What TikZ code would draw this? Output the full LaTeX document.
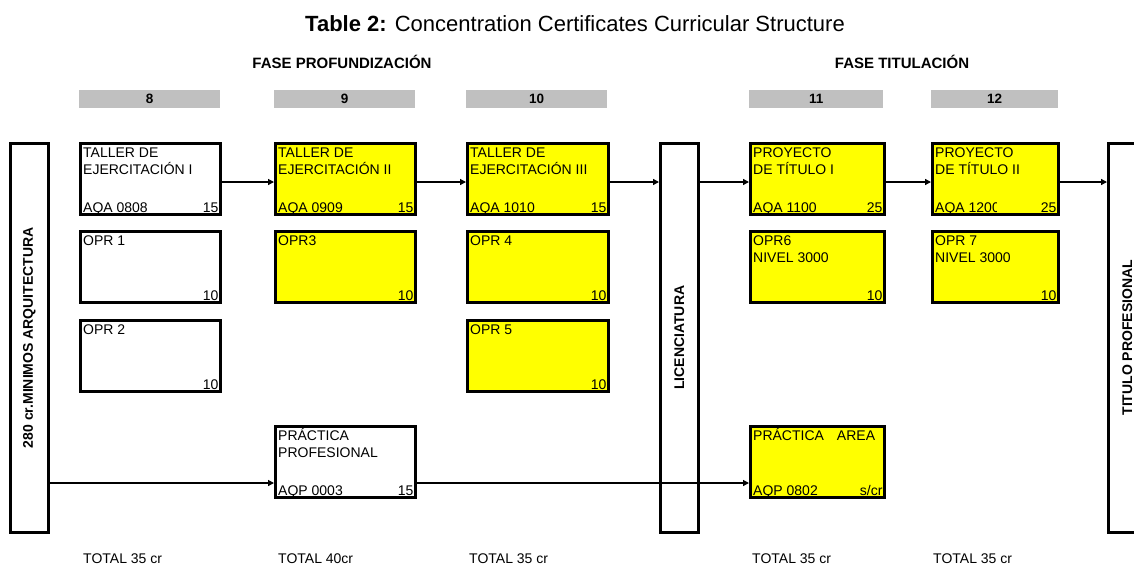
\documentclass[tikz,border=0pt]{standalone}
\usepackage{fontspec}
\setmainfont{Liberation Sans}
\usetikzlibrary{arrows.meta,calc}
\definecolor{boxyellow}{HTML}{FFFF00}
\definecolor{bargrey}{HTML}{C0C0C0}
\tikzset{
  course/.style={draw, line width=2.7pt, anchor=north west, inner sep=0pt, minimum height=71pt},
  wbox/.style={fill=white},
  ybox/.style={fill=boxyellow},
  txt/.style={font=\fontsize{14}{17}\selectfont, inner sep=0pt, anchor=base west},
  num/.style={font=\fontsize{14}{17}\selectfont, inner sep=0pt, anchor=base east},
  bar/.style={fill=bargrey, anchor=north west, minimum height=18pt, inner sep=0pt, font=\bfseries\fontsize{13.5}{15}\selectfont},
  vbox/.style={draw, line width=2.5pt, anchor=north west, minimum width=38pt, minimum height=389pt, inner sep=0pt},
  vtxt/.style={rotate=90, font=\bfseries\fontsize{14}{16}\selectfont, inner sep=0pt},
  arr/.style={line width=1.3pt, -{Triangle[length=6pt,width=6pt]}},
  total/.style={font=\fontsize{14}{17}\selectfont, anchor=base west, inner sep=0pt},
  phase/.style={font=\bfseries\fontsize{15}{18}\selectfont, anchor=base, inner sep=0pt},
}
\newcommand\coursebox[9]{%
  \node[course,#5,minimum width=#4pt] (#1) at (#2,#3) {};
  \node[txt] (#1-a) at ($(#1.north west)+(4,15)$) {#6};
  \node[txt] (#1-b) at ($(#1.north west)+(4,32)$) {#7};
  \node[txt] (#1-c) at ($(#1.south west)+(4,-3)$) {#8};
  \node[num] (#1-n) at ($(#1.south east)+(-3,-3)$) {#9};
}
\begin{document}
\begin{tikzpicture}[x=1pt,y=-1pt]
\useasboundingbox (0,0) rectangle (1134,565);
\clip (0,0) rectangle (1134,565);

% title and phases
\node[font=\fontsize{22}{26}\selectfont, anchor=base, inner sep=0pt] (title) at (575,31)
  {\textbf{Table 2:} Concentration Certificates Curricular Structure};
\node[phase] (fp) at (342,68) {FASE PROFUNDIZACIÓN};
\node[phase] (ft) at (902,68) {FASE TITULACIÓN};

% semester bars
\node[bar, minimum width=141pt] (b8) at (79,90) {8};
\node[bar, minimum width=141pt] (b9) at (274,90) {9};
\node[bar, minimum width=141pt] (b10) at (466,90) {10};
\node[bar, minimum width=134pt] (b11) at (749,90) {11};
\node[bar, minimum width=127pt] (b12) at (931,90) {12};

% vertical boxes
\node[vbox] (left) at (9,142) {};
\node[vtxt] (lefttxt) at (left.center) {280 cr.MINIMOS ARQUITECTURA};
\node[vbox] (lic) at (659,142) {};
\node[vtxt] (lictxt) at (lic.center) {LICENCIATURA};
\node[vbox] (tit) at (1107,142) {};
\node[vtxt] (tittxt) at (tit.center) {TITULO PROFESIONAL};

% semester 8
\coursebox{t1}{79}{142}{140}{wbox}{TALLER DE}{EJERCITACIÓN I}{AQA 0808}{15}
\coursebox{o1}{79}{230}{140}{wbox}{OPR 1}{}{}{10}
\coursebox{o2}{79}{319}{140}{wbox}{OPR 2}{}{}{10}
% semester 9
\coursebox{t2}{274}{142}{140}{ybox}{TALLER DE}{EJERCITACIÓN II}{AQA 0909}{15}
\coursebox{o3}{274}{230}{140}{ybox}{OPR3}{}{}{10}
\coursebox{pp}{274}{425}{140}{wbox}{PRÁCTICA}{PROFESIONAL}{AQP 0003}{15}
% semester 10
\coursebox{t3}{466}{142}{141}{ybox}{TALLER DE}{EJERCITACIÓN III}{AQA 1010}{15}
\coursebox{o4}{466}{230}{141}{ybox}{OPR 4}{}{}{10}
\coursebox{o5}{466}{319}{141}{ybox}{OPR 5}{}{}{10}
% semester 11
\coursebox{p1}{749}{142}{134}{ybox}{PROYECTO}{DE TÍTULO I}{AQA 1100}{25}
\coursebox{o6}{749}{230}{134}{ybox}{OPR6}{NIVEL 3000}{}{10}
\coursebox{pa}{749}{425}{134}{ybox}{PRÁCTICA\hspace{13pt}AREA}{}{AQP 0802}{s/cr}
% semester 12
\coursebox{p2}{931}{142}{126}{ybox}{PROYECTO}{DE TÍTULO II}{}{25}
\begin{scope}
  \clip (931,190) rectangle (996,214);
  \node[txt] (p2-code) at ($(p2.south west)+(4,-3)$) {AQA 1200};
\end{scope}
\coursebox{o7}{931}{230}{126}{ybox}{OPR 7}{NIVEL 3000}{}{10}

% connectors
\coordinate (r1) at (0,182);
\coordinate (r4) at (0,483);
\draw[arr] (t1.east |- r1) -- (t2.west |- r1);
\draw[arr] (t2.east |- r1) -- (t3.west |- r1);
\draw[arr] (t3.east |- r1) -- (lic.west |- r1);
\draw[arr] (lic.east |- r1) -- (p1.west |- r1);
\draw[arr] (p1.east |- r1) -- (p2.west |- r1);
\draw[arr] (p2.east |- r1) -- (tit.west |- r1);
\draw[arr] (left.east |- r4) -- (pp.west |- r4);
\draw[arr] (pp.east |- r4) -- (pa.west |- r4);

% totals
\node[total] (tot8) at (83,563) {TOTAL 35 cr};
\node[total] (tot9) at (278,563) {TOTAL 40cr};
\node[total] (tot10) at (469,563) {TOTAL 35 cr};
\node[total] (tot11) at (752,563) {TOTAL 35 cr};
\node[total] (tot12) at (933,563) {TOTAL 35 cr};
\end{tikzpicture}
\end{document}
